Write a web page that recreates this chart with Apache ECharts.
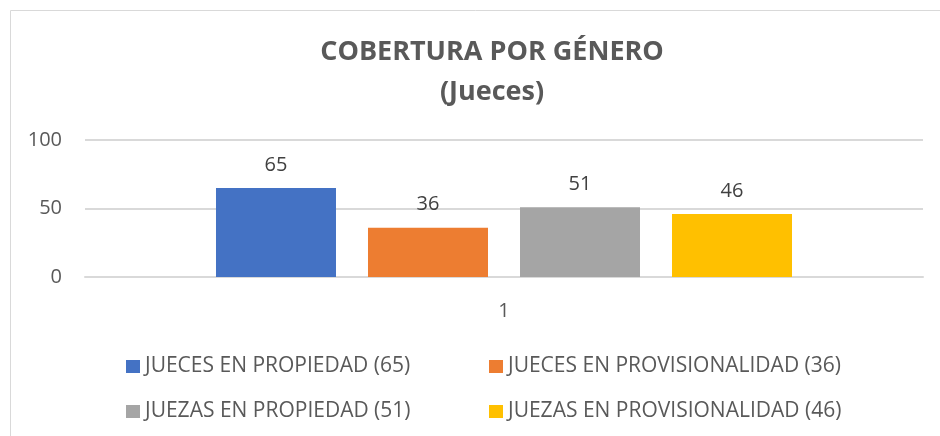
<!DOCTYPE html>
<html>
<head>
<meta charset="utf-8">
<script src="https://cdn.jsdelivr.net/npm/echarts@6/dist/echarts.min.js"></script>
<style>html,body{margin:0;padding:0;background:#fff}#c{width:940px;height:436px}</style>
</head>
<body>
<div id="c"></div>
<script>
const categories = ['1'];
const seriesNames = ['JUECES EN PROPIEDAD (65)', 'JUECES EN PROVISIONALIDAD (36)', 'JUEZAS EN PROPIEDAD (51)', 'JUEZAS EN PROVISIONALIDAD (46)'];
const juecesPropiedad = [65];
const juecesProvisionalidad = [36];
const juezasPropiedad = [51];
const juezasProvisionalidad = [46];
const colors = ['#4472C4', '#ED7D31', '#A5A5A5', '#FFC000'];
const seriesValues = [juecesPropiedad, juecesProvisionalidad, juezasPropiedad, juezasProvisionalidad];

const font = '"Open Sans", "Noto Sans", sans-serif';
const chart = echarts.init(document.getElementById('c'));

const legendPos = [
  {left: 126, top: 356},
  {left: 489, top: 356},
  {left: 126, top: 401},
  {left: 489, top: 401}
];

chart.setOption({
  animation: false,
  graphic: [{
    type: 'rect', left: 8, top: 8,
    shape: {width: 960, height: 460},
    style: {fill: 'none', stroke: '#D9D9D9', lineWidth: 1}
  }],
  title: {
    text: 'COBERTURA POR GÉNERO\n(Jueces)',
    left: 487, textAlign: 'center', top: 27,
    textStyle: {fontFamily: font, fontWeight: 'bold', fontSize: 27, color: '#595959', lineHeight: 40}
  },
  legend: seriesNames.map((n, i) => ({
    data: [n], left: legendPos[i].left, top: legendPos[i].top, padding: 0,
    itemWidth: 14, itemHeight: 13, icon: 'rect',
    textStyle: {fontFamily: font, fontSize: 21, color: '#595959'},
    selectedMode: false
  })),
  grid: {left: 85, right: 17, top: 140, height: 137, containLabel: false},
  xAxis: {
    type: 'category', data: categories,
    axisLine: {show: true, lineStyle: {color: '#D9D9D9', width: 2}},
    axisTick: {show: false},
    axisLabel: {fontFamily: font, fontSize: 20, color: '#595959', margin: 24}
  },
  yAxis: {
    type: 'value', min: 0, max: 100, interval: 50,
    axisLine: {show: false}, axisTick: {show: false},
    splitLine: {lineStyle: {color: '#D9D9D9', width: 2}},
    axisLabel: {fontFamily: font, fontSize: 20, color: '#595959', margin: 23}
  },
  series: seriesNames.map((n, i) => ({
    name: n, type: 'bar', data: seriesValues[i],
    barWidth: 120, barGap: '26.67%',
    itemStyle: {color: colors[i]},
    label: {show: true, position: 'top', distance: 13, fontFamily: font, fontSize: 20, color: '#404040'}
  }))
});
</script>
</body>
</html>
